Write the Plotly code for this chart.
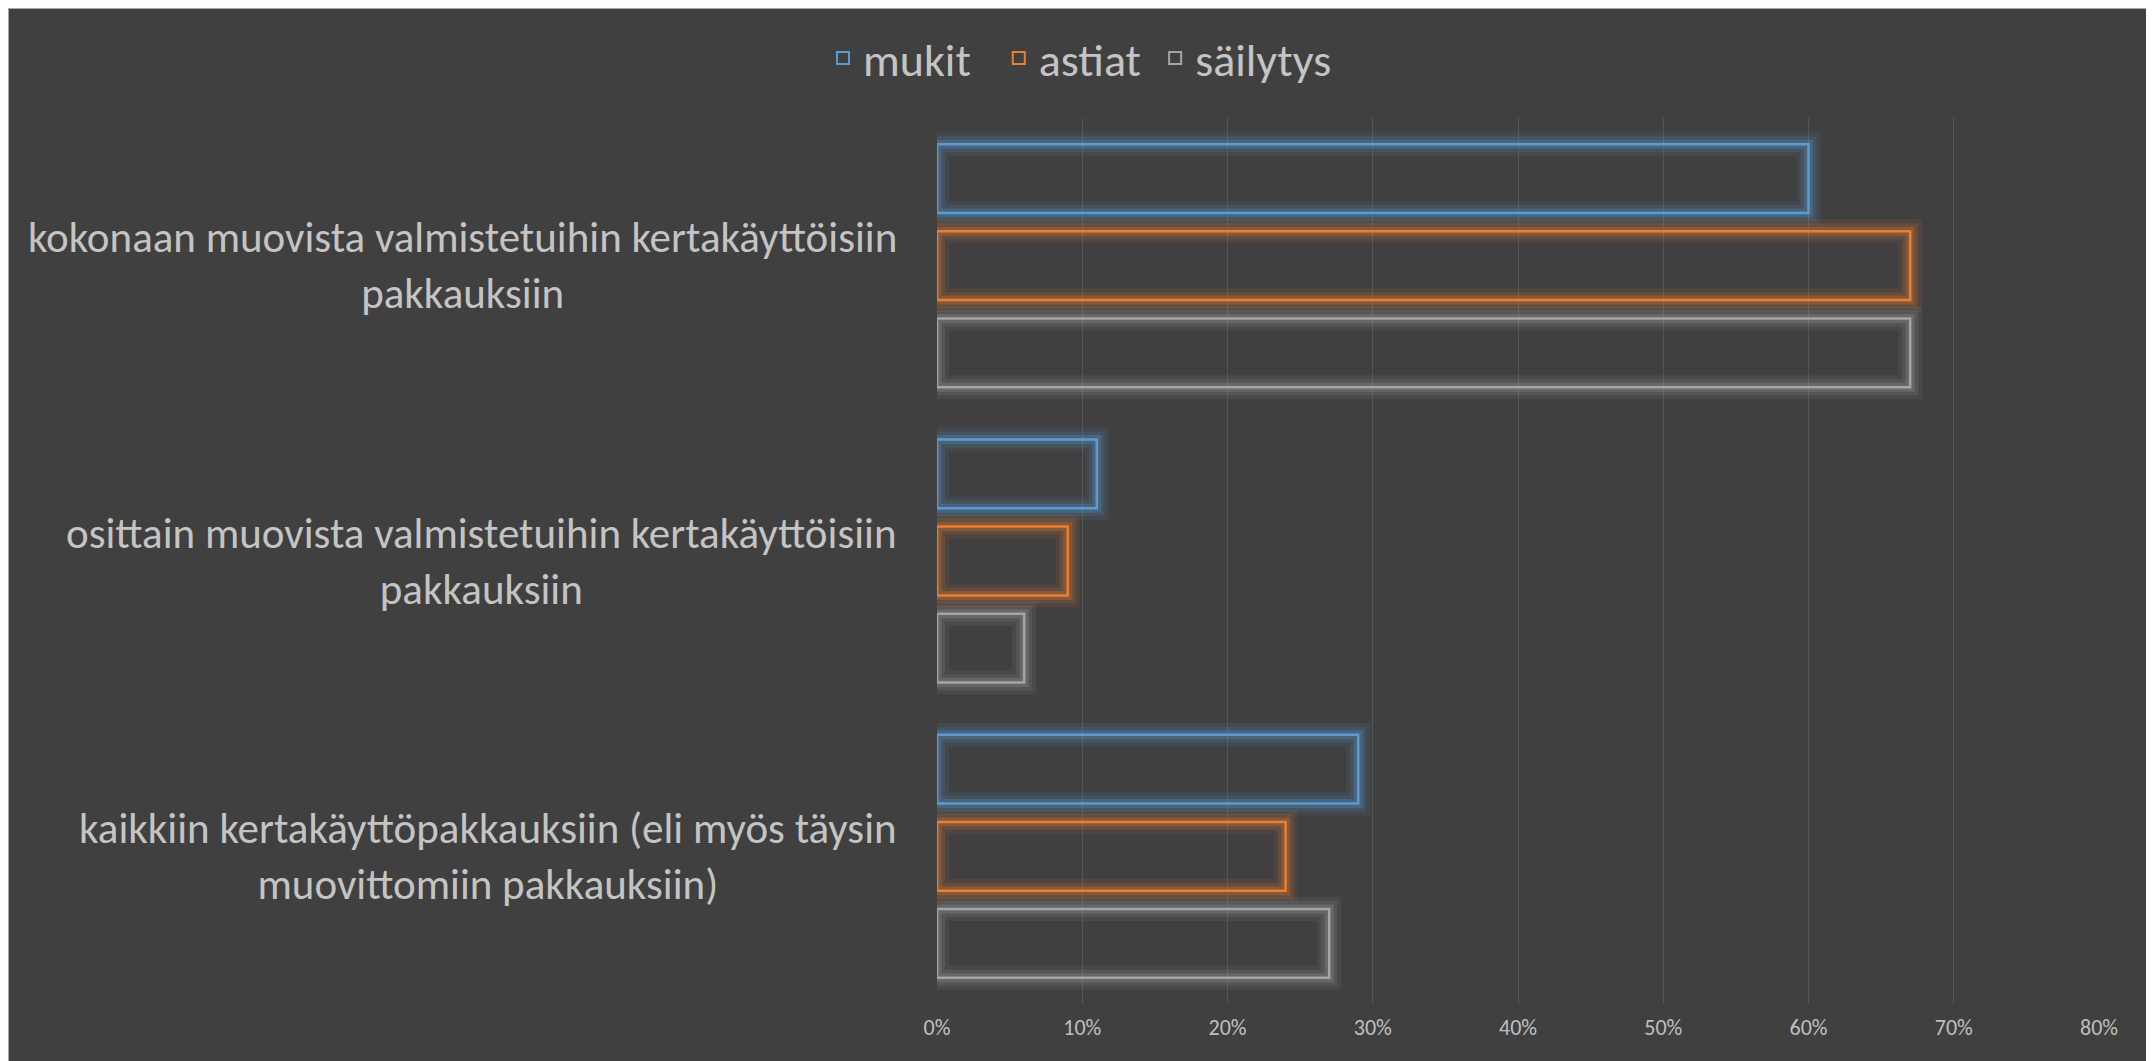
import plotly.graph_objects as go

categories = [
    "kokonaan muovista valmistetuihin kertakäyttöisiin<br>pakkauksiin",
    "osittain muovista valmistetuihin kertakäyttöisiin<br>pakkauksiin",
    "kaikkiin kertakäyttöpakkauksiin (eli myös täysin<br>muovittomiin pakkauksiin)",
]
series_names = ["mukit", "astiat", "säilytys"]
mukit = [0.60, 0.11, 0.29]
astiat = [0.67, 0.09, 0.24]
sailytys = [0.67, 0.06, 0.27]
tick_vals = [0, 0.1, 0.2, 0.3, 0.4, 0.5, 0.6, 0.7, 0.8]
tick_text = ["0%", "10%", "20%", "30%", "40%", "50%", "60%", "70%", "80%"]

colors = ["#5B9BD5", "#ED7D31", "#A5A5A5"]
rgb = [(91, 155, 213), (237, 125, 49), (165, 165, 165)]
series_values = [mukit, astiat, sailytys]
cat_keys = ["c0", "c1", "c2"]

FONT = "Carlito, Calibri, Lato, sans-serif"
BG = "#404040"

# the page body has an 8px margin, so the figure starts at (8, 8)
OFF = 8
W, H = 2154 - OFF, 1061 - OFF
L, R, T, B = 937 - OFF, 55, 110, 57

fig = go.Figure()
for name, vals, col, c in zip(series_names, series_values, colors, rgb):
    # soft glow layers
    for w, a in [(24, 0.09), (16, 0.14), (9, 0.24)]:
        fig.add_trace(go.Bar(
            y=cat_keys, x=vals, orientation="h", offsetgroup=name,
            marker=dict(color="rgba(0,0,0,0)",
                        line=dict(color=f"rgba({c[0]},{c[1]},{c[2]},{a})", width=w)),
            showlegend=False, hoverinfo="skip",
        ))
    fig.add_trace(go.Bar(
        y=cat_keys, x=vals, orientation="h", offsetgroup=name, name=name,
        marker=dict(color="rgba(0,0,0,0)", line=dict(color=col, width=2.5)),
        showlegend=False,
    ))

# legend-only entries (open squares)
pads = ["\u2002", "\u2009", ""]
for name, col, pad in zip(series_names, colors, pads):
    fig.add_trace(go.Scatter(
        x=[None], y=[None], mode="markers", name=name + pad,
        marker=dict(symbol="square-open", size=16, color=col, line=dict(width=2, color=col)),
        showlegend=True,
    ))

# chart area background with border (paper coords computed from figure pixels)
pw = W - L - R
ph = H - T - B
def px_x(p):
    return (p - L) / pw
def px_y(p):
    return (H - B - p) / ph

fig.add_shape(type="rect", xref="paper", yref="paper",
              x0=px_x(0), x1=px_x(2148 - OFF), y0=px_y(H + 2), y1=px_y(0),
              fillcolor=BG, line=dict(color="#A6A6A6", width=2), layer="below")

for key, label in zip(cat_keys, categories):
    fig.add_annotation(
        x=0, xref="paper", y=key, yref="y", xanchor="right", yanchor="middle",
        xshift=-38, text=label, showarrow=False, align="center",
        font=dict(family=FONT, size=43, color="#C4C4C4"),
    )

fig.update_layout(
    width=W, height=H,
    margin=dict(l=L, r=R, t=T, b=B, pad=0, autoexpand=False),
    paper_bgcolor="white", plot_bgcolor=BG,
    barmode="group", bargap=0.115, bargroupgap=0.21,
    font=dict(family=FONT, color="#BFBFBF"),
    legend=dict(
        orientation="h", xref="container", yref="container",
        x=(1080 - OFF) / W, xanchor="center", y=1 - (58 - OFF) / H, yanchor="middle",
        font=dict(family=FONT, size=46, color="#C4C4C4"),
        bgcolor="rgba(0,0,0,0)", itemwidth=30, traceorder="normal",
        itemsizing="constant",
    ),
    xaxis=dict(
        range=[0, 0.8], tickvals=tick_vals, ticktext=tick_text,
        showgrid=True, gridcolor="#555555", gridwidth=1,
        zeroline=False, showline=False, ticks="", automargin=False,
        tickfont=dict(family=FONT, size=22, color="#BFBFBF"),
        ticklabelstandoff=8,
    ),
    yaxis=dict(
        autorange="reversed", showticklabels=False, showgrid=False,
        zeroline=False, showline=False, ticks="", automargin=False,
    ),
)

fig.write_html("out.html")
